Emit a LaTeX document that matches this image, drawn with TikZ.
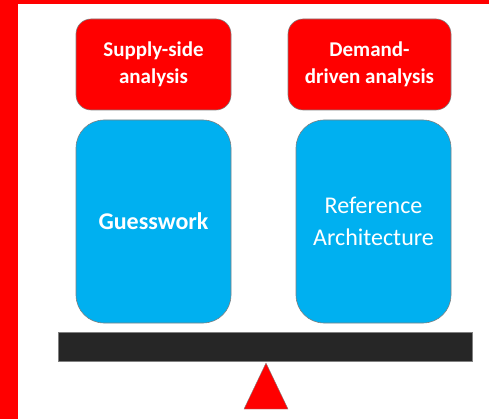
\documentclass[tikz,border=0pt]{standalone}
\usepackage{fontspec}
\setmainfont{Carlito}
\definecolor{boxred}{HTML}{FF0000}
\definecolor{boxblue}{HTML}{00B0F0}
\definecolor{beamgray}{HTML}{262626}
\tikzset{
    side/.style={draw=gray, line width=0.6pt, fill=boxred, text=white, rounded corners=15pt,
        align=center, font=\fontsize{21}{27}\selectfont\bfseries, inner sep=0pt},
    weight/.style={draw=gray, line width=0.6pt, fill=boxblue, text=white, rounded corners=28pt,
        align=center, minimum width=155pt, minimum height=203pt, inner sep=0pt}
}
\begin{document}
\begin{tikzpicture}[x=1pt, y=-1pt]
    % --- Frame of the slide ---
    \useasboundingbox (0,0) rectangle (489,419);
    \fill[boxred] (0,0) rectangle (18,419);
    \fill[boxred] (0,0) rectangle (489,4);

    % --- The two approaches on top ---
    \node[side, minimum width=155pt, minimum height=91pt] (supply) at (153.5,64.5) {Supply-side\\analysis};
    \node[side, minimum width=163pt, minimum height=91pt] (demand) at (369.5,64.5) {Demand-\\driven analysis};

    % --- What each one weighs ---
    \node[weight, font=\fontsize{24}{31}\selectfont\bfseries] (guess) at (153.5,221.5) {Guesswork};
    \node[weight, font=\fontsize{24}{32}\selectfont] (refarch) at (373.5,221.5) {Reference\\Architecture};

    % --- The scale: beam and pivot ---
    \coordinate (beamL) at (58,332);
    \coordinate (beamR) at (472,361);
    \draw[gray, fill=beamgray, line width=0.6pt] (beamL) rectangle (beamR);

    \coordinate (tip) at (266,363);
    \coordinate (footL) at (244,409);
    \coordinate (footR) at (288,409);
    \draw[gray, fill=boxred, line width=0.4pt] (tip) -- (footL) -- (footR) -- cycle;
\end{tikzpicture}
\end{document}
